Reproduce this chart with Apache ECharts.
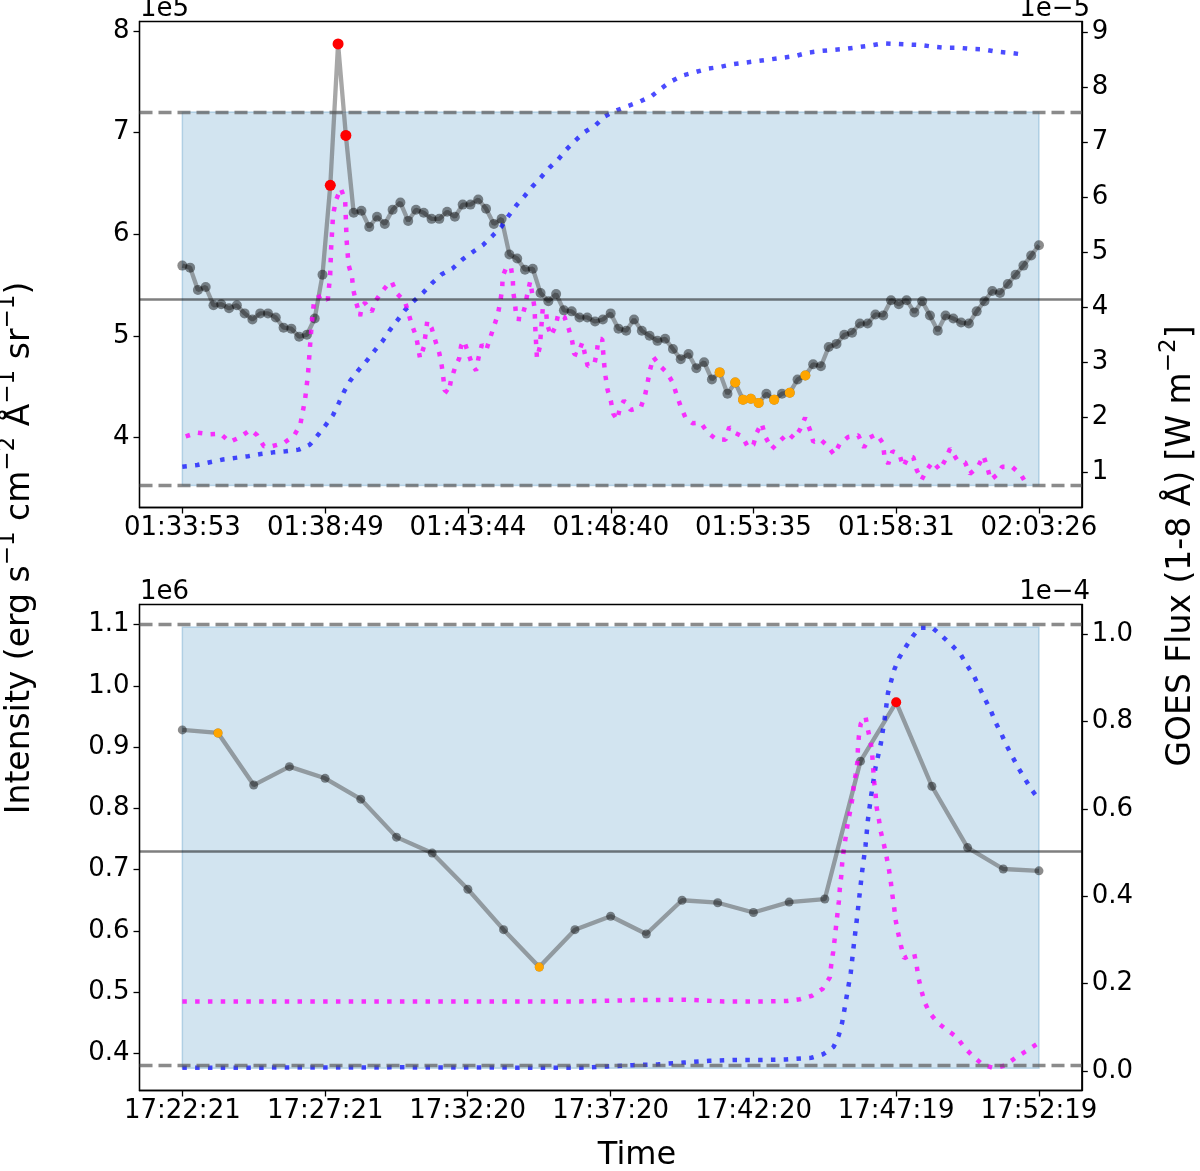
<!DOCTYPE html>
<html>
<head>
<meta charset="utf-8">
<title>Intensity vs GOES flux</title>
<script src="https://cdn.jsdelivr.net/npm/echarts@6/dist/echarts.min.js"></script>
<style>
  html, body { margin: 0; padding: 0; background: #fff; }
  #chart { width: 1200px; height: 1171px; }
</style>
</head>
<body>
<div id="chart"></div>
<script>
// ---------- top panel : 01:33:53 - 02:03:26 ----------
var topTicks = ['01:33:53', '01:38:49', '01:43:44', '01:48:40', '01:53:35', '01:58:31', '02:03:26'];
// intensity, units of 1e5
var topIntensity = [
  5.69, 5.67, 5.45, 5.48, 5.30, 5.31, 5.27, 5.30, 5.22, 5.16,
  5.22, 5.22, 5.18, 5.08, 5.07, 4.99, 5.01, 5.17, 5.60, 6.48,
  7.87, 6.97, 6.21, 6.23, 6.07, 6.17, 6.10, 6.24, 6.31, 6.13,
  6.24, 6.21, 6.15, 6.15, 6.22, 6.17, 6.29, 6.29, 6.34, 6.25,
  6.10, 6.15, 5.80, 5.76, 5.65, 5.66, 5.42, 5.34, 5.41, 5.25,
  5.24, 5.18, 5.18, 5.14, 5.16, 5.22, 5.07, 5.05, 5.16, 5.05,
  5.00, 4.95, 4.97, 4.87, 4.77, 4.82, 4.68, 4.74, 4.57, 4.64,
  4.43, 4.54, 4.37, 4.38, 4.34, 4.43, 4.37, 4.43, 4.44, 4.57,
  4.61, 4.72, 4.70, 4.89, 4.92, 5.01, 5.03, 5.12, 5.12, 5.21,
  5.20, 5.35, 5.31, 5.35, 5.23, 5.34, 5.20, 5.05, 5.20, 5.17,
  5.13, 5.12, 5.24, 5.34, 5.44, 5.42, 5.51, 5.60, 5.69, 5.79,
  5.89
];
var topRed = [19, 20, 21];
var topOrange = [69, 71, 72, 73, 74, 76, 78, 80];
var topBounds = [3.528, 7.202];
var topMean = 5.362;
// GOES 1-8 A, units of 1e-5 (time in s from first tick)
var topGoesT = [0, 31, 57, 84, 110, 136, 162, 188, 214, 241, 264, 281, 297, 312, 324, 335, 348, 364, 382, 398,
  415, 430, 445, 461, 480, 499, 517, 537, 560, 580, 600, 622, 642, 660, 675, 691, 708, 724, 742, 760,
  778, 795, 813, 833, 855, 874, 896, 922, 947, 971, 991, 1012, 1037, 1063, 1087, 1112, 1138, 1165, 1191, 1218,
  1243, 1269, 1294, 1320, 1346, 1372, 1398, 1424, 1450, 1476, 1502, 1528, 1554, 1581, 1607, 1633, 1659, 1685, 1711, 1738];
var topGoesV = [1.10, 1.13, 1.18, 1.23, 1.26, 1.29, 1.33, 1.36, 1.38, 1.41, 1.50, 1.68, 1.86, 2.04, 2.26, 2.47, 2.67, 2.85, 3.03, 3.21,
  3.39, 3.59, 3.76, 3.95, 4.12, 4.27, 4.44, 4.60, 4.71, 4.87, 5.00, 5.13, 5.30, 5.46, 5.66, 5.85, 6.02, 6.19, 6.36, 6.54,
  6.69, 6.87, 7.03, 7.19, 7.31, 7.47, 7.57, 7.66, 7.74, 7.84, 7.98, 8.11, 8.22, 8.28, 8.34, 8.37, 8.42, 8.45, 8.48, 8.51,
  8.54, 8.57, 8.63, 8.66, 8.68, 8.70, 8.73, 8.76, 8.80, 8.79, 8.78, 8.77, 8.74, 8.72, 8.72, 8.70, 8.69, 8.65, 8.63, 8.60];
// GOES derivative (magenta), right-axis units
var topDerivT = [7, 31, 56, 79, 98, 118, 141, 155, 169, 185, 210, 231, 244, 249, 254, 260, 264, 268, 273, 291,
  301, 306, 308, 312, 318, 328, 337, 340, 344, 351, 354, 360, 368, 371, 378, 392, 401, 413, 423, 433,
  444, 461, 475, 484, 492, 500, 507, 516, 523, 532, 537, 540, 543, 551, 556, 564, 573, 577, 583, 592,
  600, 608, 613, 620, 629, 637, 645, 653, 658, 662, 663, 670, 680, 684, 685, 689, 691, 702, 709, 714,
  720, 723, 729, 730, 731, 734, 740, 742, 744, 746, 753, 755, 763, 773, 778, 791, 800, 807, 811, 818,
  828, 833, 839, 853, 858, 861, 869, 871, 873, 876, 880, 887, 892, 900, 906, 914, 928, 949, 958, 963,
  968, 975, 989, 1003, 1015, 1023, 1032, 1042, 1056, 1073, 1087, 1105, 1124, 1132, 1143, 1159, 1171, 1182, 1189, 1199,
  1207, 1220, 1237, 1254, 1266, 1278, 1289, 1299, 1306, 1320, 1335, 1349, 1361, 1378, 1399, 1411, 1423, 1437, 1450, 1453,
  1461, 1470, 1484, 1492, 1503, 1513, 1520, 1530, 1541, 1553, 1568, 1580, 1589, 1603, 1620, 1630, 1646, 1658, 1666, 1673,
  1686, 1697, 1706, 1717, 1736, 1748];
var topDerivV = [1.65, 1.72, 1.69, 1.70, 1.55, 1.63, 1.77, 1.67, 1.47, 1.47, 1.53, 1.66, 1.86, 2.09, 2.32, 2.77, 3.26, 3.71, 4.15, 4.22,
  4.13, 4.59, 5.08, 5.68, 5.95, 6.16, 5.95, 5.22, 4.77, 4.56, 4.31, 4.08, 3.84, 4.01, 4.08, 3.92, 4.13, 4.28, 4.39, 4.47,
  4.25, 4.10, 3.68, 3.47, 3.07, 3.28, 3.75, 3.62, 3.41, 3.16, 2.93, 2.73, 2.49, 2.44, 2.67, 2.89, 3.07, 3.30, 3.39, 3.16,
  2.95, 2.85, 3.08, 3.32, 3.22, 3.44, 3.65, 3.87, 4.10, 4.33, 4.56, 4.71, 4.74, 4.50, 4.27, 4.04, 3.79, 3.78, 4.01, 4.24,
  4.47, 4.47, 3.99, 3.77, 3.53, 3.07, 3.28, 3.52, 3.75, 3.98, 3.92, 3.69, 3.48, 3.66, 3.88, 3.82, 3.60, 3.38, 3.15, 3.13,
  3.36, 3.16, 2.93, 2.97, 3.19, 3.42, 3.42, 3.19, 2.97, 2.74, 2.50, 2.29, 2.06, 1.95, 2.18, 2.30, 2.13, 2.18, 2.41, 2.63,
  2.86, 3.09, 2.93, 2.81, 2.63, 2.41, 2.18, 1.98, 1.89, 1.90, 1.72, 1.60, 1.59, 1.82, 1.72, 1.65, 1.45, 1.50, 1.72, 1.89,
  1.64, 1.42, 1.57, 1.71, 1.61, 1.77, 1.99, 1.77, 1.55, 1.60, 1.48, 1.32, 1.52, 1.64, 1.67, 1.45, 1.63, 1.69, 1.53, 1.30,
  1.15, 1.38, 1.33, 1.10, 1.29, 1.27, 1.04, 0.86, 1.04, 1.19, 1.04, 1.24, 1.43, 1.23, 1.18, 0.97, 1.09, 1.30, 1.09, 0.86,
  0.95, 1.10, 1.10, 1.10, 0.95, 0.77];

// ---------- bottom panel : 17:22:21 - 17:52:19 ----------
var botTicks = ['17:22:21', '17:27:21', '17:32:20', '17:37:20', '17:42:20', '17:47:19', '17:52:19'];
// intensity, units of 1e6
var botIntensity = [0.928, 0.923, 0.838, 0.868, 0.849, 0.815, 0.753, 0.727, 0.668, 0.602,
  0.541, 0.602, 0.624, 0.595, 0.650, 0.646, 0.630, 0.647, 0.652, 0.877,
  0.973, 0.836, 0.736, 0.701, 0.698];
var botRed = [20];
var botOrange = [1, 10];
var botBounds = [0.376, 1.096];
var botMean = 0.735;
// GOES 1-8 A, units of 1e-4
var botGoesT = [0, 457, 835, 891, 945, 999, 1052, 1106, 1160, 1214, 1267, 1320, 1345, 1367, 1378, 1385, 1394, 1403, 1409, 1415,
  1421, 1427, 1434, 1439, 1446, 1455, 1466, 1474, 1481, 1494, 1504, 1518, 1533, 1548, 1574, 1595, 1614, 1634, 1648, 1662,
  1674, 1685, 1697, 1707, 1719, 1730, 1742, 1755, 1769, 1783, 1797];
var botGoesV = [0.007, 0.008, 0.007, 0.010, 0.013, 0.015, 0.019, 0.023, 0.025, 0.025, 0.026, 0.030, 0.038, 0.055, 0.082, 0.111, 0.168, 0.225, 0.285, 0.340,
  0.399, 0.458, 0.516, 0.575, 0.632, 0.695, 0.749, 0.805, 0.865, 0.918, 0.945, 0.970, 0.995, 1.015, 1.015, 0.995, 0.976, 0.953, 0.927, 0.903,
  0.876, 0.851, 0.825, 0.798, 0.772, 0.745, 0.720, 0.693, 0.668, 0.643, 0.623];
var botDerivT = [0, 457, 835, 947, 1056, 1136, 1217, 1270, 1296, 1322, 1344, 1359, 1362, 1366, 1369, 1372, 1375, 1378, 1380, 1383,
  1385, 1388, 1392, 1396, 1401, 1406, 1409, 1413, 1417, 1418, 1420, 1424, 1434, 1439, 1445, 1448, 1450, 1452, 1455, 1457,
  1462, 1466, 1472, 1478, 1483, 1487, 1490, 1494, 1497, 1502, 1508, 1515, 1536, 1541, 1545, 1551, 1558, 1569, 1586, 1604,
  1625, 1641, 1659, 1679, 1704, 1726, 1749, 1772, 1793];
var botDerivV = [0.159, 0.159, 0.159, 0.162, 0.163, 0.159, 0.159, 0.160, 0.164, 0.172, 0.188, 0.214, 0.243, 0.272, 0.300, 0.330, 0.359, 0.388, 0.417, 0.446,
  0.476, 0.504, 0.533, 0.562, 0.591, 0.621, 0.651, 0.678, 0.708, 0.739, 0.766, 0.795, 0.811, 0.781, 0.752, 0.724, 0.693, 0.662, 0.636, 0.605,
  0.576, 0.548, 0.521, 0.491, 0.462, 0.433, 0.405, 0.375, 0.346, 0.318, 0.288, 0.258, 0.269, 0.243, 0.214, 0.185, 0.157, 0.132, 0.110, 0.094,
  0.078, 0.054, 0.034, 0.015, 0.006, 0.012, 0.030, 0.046, 0.061];

// ---------- helpers ----------
function toSec(s) {
  var p = s.split(':');
  return (+p[0]) * 3600 + (+p[1]) * 60 + (+p[2]);
}
function tickPos(labels) {
  var t0 = toSec(labels[0]);
  return labels.map(function (l) { return toSec(l) - t0; });
}
function sampleTimes(n, span) {
  var out = [];
  for (var i = 0; i < n; i++) out.push(i * span / (n - 1));
  return out;
}
function zip(t, v) {
  return t.map(function (x, i) { return [x, v[i]]; });
}
function pick(t, v, idx) {
  return idx.map(function (i) { return [t[i], v[i]]; });
}
function labelFor(pos, labels) {
  return function (val) {
    var best = 0;
    for (var i = 1; i < pos.length; i++) {
      if (Math.abs(pos[i] - val) < Math.abs(pos[best] - val)) best = i;
    }
    return labels[best];
  };
}
function fixed(d) {
  return function (v) { return v.toFixed(d); };
}

var FONT = 'DejaVu Sans';
var TICK_FS = 26;
var GRID_LEFT = 139.5, GRID_W = 942.3, GRID_H = 486;
var GRID_TOPS = [21.5, 604.5];

var lineGray = 'rgba(80,80,80,0.5)';
var markGray = 'rgba(0,0,0,0.45)';
var dashGray = 'rgba(90,90,90,0.7)';
var goesBlue = 'rgba(0,0,255,0.7)';
var derivMag = 'rgba(255,0,255,0.8)';
var shade = 'rgba(31,119,180,0.2)';

var panels = [
  { ticks: topTicks, inten: topIntensity, red: topRed, orange: topOrange, bounds: topBounds, mean: topMean,
    goesT: topGoesT, goesV: topGoesV, derT: topDerivT, derV: topDerivV,
    left: [3.311, 8.091], leftTicks: [4, 5, 6, 7, 8], leftDigits: 0,
    right: [0.357, 9.198], rightTicks: [1, 2, 3, 4, 5, 6, 7, 8, 9], rightDigits: 0,
    markSize: 10, hiSize: 11, orSize: 10 },
  { ticks: botTicks, inten: botIntensity, red: botRed, orange: botOrange, bounds: botBounds, mean: botMean,
    goesT: botGoesT, goesV: botGoesV, derT: botDerivT, derV: botDerivV,
    left: [0.3396, 1.1326], leftTicks: [0.4, 0.5, 0.6, 0.7, 0.8, 0.9, 1.0, 1.1], leftDigits: 1,
    right: [-0.045, 1.068], rightTicks: [0, 0.2, 0.4, 0.6, 0.8, 1.0], rightDigits: 1,
    markSize: 9, hiSize: 10, orSize: 9 }
];

var grids = [], xAxes = [], yAxes = [], series = [];

panels.forEach(function (p, k) {
  var pos = tickPos(p.ticks);
  var span = pos[pos.length - 1];
  var t = sampleTimes(p.inten.length, span);
  var axLine = { show: true, onZero: false, lineStyle: { color: '#000', width: 1.3 } };
  var tick = { show: true, length: 6, lineStyle: { color: '#000', width: 1.3 } };
  var lab = { color: '#000', fontSize: TICK_FS, fontFamily: FONT };

  grids.push({ left: GRID_LEFT, top: GRID_TOPS[k], width: GRID_W, height: GRID_H,
    show: true, borderColor: '#000', borderWidth: 1.3, backgroundColor: 'transparent' });

  xAxes.push({
    type: 'value', gridIndex: k, min: -0.05 * span, max: 1.05 * span,
    axisLine: axLine,
    axisTick: Object.assign({ customValues: pos }, tick),
    axisLabel: Object.assign({ customValues: pos, margin: 8, formatter: labelFor(pos, p.ticks) }, lab),
    splitLine: { show: false }
  });

  yAxes.push({
    type: 'value', gridIndex: k, position: 'left', min: p.left[0], max: p.left[1],
    axisLine: axLine,
    axisTick: Object.assign({ customValues: p.leftTicks }, tick),
    axisLabel: Object.assign({ customValues: p.leftTicks, margin: 10, formatter: fixed(p.leftDigits) }, lab),
    splitLine: { show: false }
  });
  yAxes.push({
    type: 'value', gridIndex: k, position: 'right', min: p.right[0], max: p.right[1],
    axisLine: axLine,
    axisTick: Object.assign({ customValues: p.rightTicks }, tick),
    axisLabel: Object.assign({ customValues: p.rightTicks, margin: 10, formatter: fixed(p.rightDigits) }, lab),
    splitLine: { show: false }
  });

  var yl = 2 * k, yr = 2 * k + 1;

  // shaded window between the two bounds
  series.push({
    type: 'line', xAxisIndex: k, yAxisIndex: yl, data: [], z: 1, silent: true,
    markArea: {
      silent: true,
      itemStyle: { color: shade, borderColor: 'rgba(31,119,180,0.25)', borderWidth: 1.5 },
      data: [[{ xAxis: t[0], yAxis: p.bounds[0] }, { xAxis: t[t.length - 1], yAxis: p.bounds[1] }]]
    }
  });
  // bounds (dashed) and mean (solid)
  series.push({
    type: 'line', xAxisIndex: k, yAxisIndex: yl, data: [], z: 2, silent: true,
    markLine: {
      silent: true, symbol: ['none', 'none'], label: { show: false },
      data: [
        { yAxis: p.bounds[0], lineStyle: { color: dashGray, width: 3.3, type: [13, 6] } },
        { yAxis: p.bounds[1], lineStyle: { color: dashGray, width: 3.3, type: [13, 6] } },
        { yAxis: p.mean, lineStyle: { color: 'rgba(0,0,0,0.5)', width: 2.7, type: 'solid' } }
      ]
    }
  });
  // intensity
  series.push({
    type: 'line', xAxisIndex: k, yAxisIndex: yl, z: 3, data: zip(t, p.inten),
    symbol: 'circle', symbolSize: p.markSize, showSymbol: true,
    itemStyle: { color: markGray },
    lineStyle: { color: lineGray, width: 4.3 }
  });
  // GOES flux and derivative on the right axis
  series.push({
    type: 'line', xAxisIndex: k, yAxisIndex: yr, z: 4, data: zip(p.goesT, p.goesV),
    symbol: 'none', lineStyle: { color: goesBlue, width: 4.5, type: [4.5, 8.3], cap: 'butt' }
  });
  series.push({
    type: 'line', xAxisIndex: k, yAxisIndex: yr, z: 4, data: zip(p.derT, p.derV),
    symbol: 'none', lineStyle: { color: derivMag, width: 4.5, type: [4.5, 8.3], cap: 'butt' }
  });
  // highlighted samples
  series.push({
    type: 'scatter', xAxisIndex: k, yAxisIndex: yl, z: 5, data: pick(t, p.inten, p.orange),
    symbolSize: p.orSize, itemStyle: { color: '#ffa500', opacity: 1 }
  });
  series.push({
    type: 'scatter', xAxisIndex: k, yAxisIndex: yl, z: 5, data: pick(t, p.inten, p.red),
    symbolSize: p.hiSize, itemStyle: { color: '#ff0000', opacity: 1 }
  });
});

function txt(x, y, s, size, align, rot) {
  return { type: 'text', x: x, y: y, rotation: rot || 0,
    style: { text: s, fill: '#000', fontSize: size, fontFamily: FONT,
      align: align || 'left', verticalAlign: 'middle' } };
}
// axis titles with raised exponents
var richTitle = {
  n: { fontSize: 33, lineHeight: 47, fontFamily: FONT, fill: '#000' },
  s: { fontSize: 23, fontFamily: FONT, fill: '#000', verticalAlign: 'top' }
};
function title(x, y, s) {
  return { type: 'text', x: x, y: y, rotation: Math.PI / 2,
    style: { text: s, rich: richTitle, align: 'center', verticalAlign: 'middle' } };
}

var chart = echarts.init(document.getElementById('chart'), null, { renderer: 'canvas' });
chart.setOption({
  animation: false,
  backgroundColor: '#fff',
  textStyle: { fontFamily: FONT },
  grid: grids,
  xAxis: xAxes,
  yAxis: yAxes,
  series: series,
  graphic: [
    txt(140, 9, '1e5', TICK_FS),
    txt(1090, 9, '1e\u22125', TICK_FS, 'right'),
    txt(140, 592, '1e6', TICK_FS),
    txt(1090, 592, '1e\u22124', TICK_FS, 'right'),
    title(20, 548, '{n|Intensity (erg s}{s|\u22121}{n| cm}{s|\u22122}{n| \u00C5}{s|\u22121}{n| sr}{s|\u22121}{n|)}'),
    title(1181, 546, '{n|GOES Flux (1-8 \u00C5) [W m}{s|\u22122}{n|]}'),
    txt(637, 1156, 'Time', 32, 'center')
  ]
});
</script>
</body>
</html>
